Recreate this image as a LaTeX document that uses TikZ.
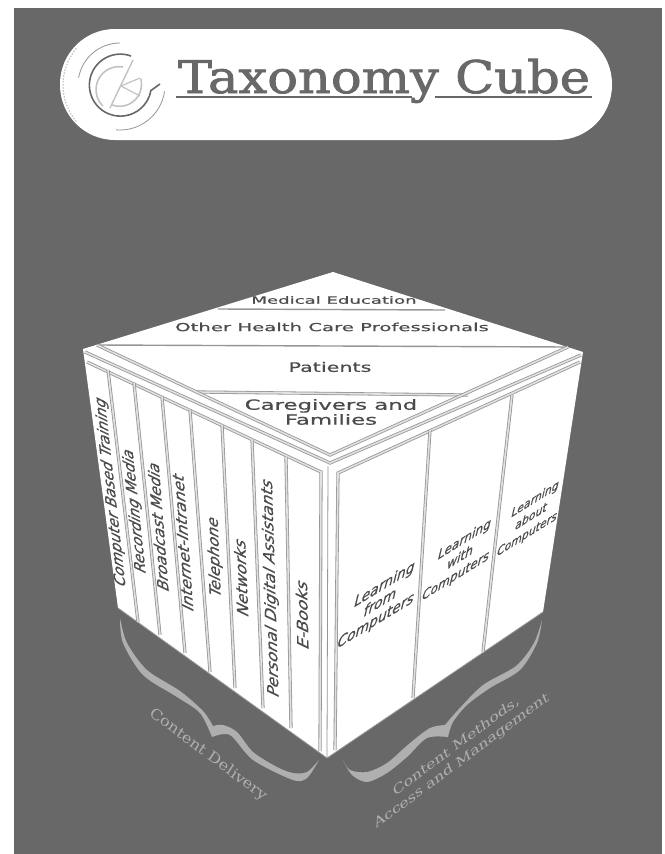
\documentclass[tikz,border=0pt]{standalone}
\usepackage{fontspec}
\usepackage{xcolor}
\usepackage{tikz}
\newfontfamily\cubesans[FakeBold=0.5]{DejaVu Sans}
\newfontfamily\cubeserif{DejaVu Serif}
\newfontfamily\cubetitle[FakeBold=1.6]{DejaVu Serif}
\definecolor{CubeBack}{RGB}{104,104,104}
\definecolor{CubeLine}{RGB}{150,150,150}
\definecolor{CubeBand}{RGB}{225,225,225}
\definecolor{CubeText}{RGB}{75,75,75}
\definecolor{CubeBrace}{RGB}{175,175,175}
\definecolor{LogoLight}{RGB}{195,195,195}

\begin{document}
\begin{tikzpicture}[x=1pt,y=-1pt,
    divider/.style={draw=CubeLine, double=CubeBand, double distance=1.6pt, line width=0.8pt},
    thinedge/.style={draw=CubeLine, line width=0.8pt},
    bandedge/.style={draw=CubeLine, line width=1.4pt},
    bracefill/.style={fill=CubeBrace, draw=none},
    toplabel/.style 2 args={font=\cubesans\fontsize{10}{8.6}\selectfont, text=CubeText, align=center, inner sep=0pt, xscale=#1, yscale=#2},
    facelabel/.style n args={4}{font=\cubesans\fontsize{10}{12}\selectfont, text=CubeText, align=center, inner sep=0pt, cm={#1,#2,#3,#4,(0,0)}},
    bracelabel/.style n args={4}{font=\cubeserif\fontsize{10}{12}\selectfont, text=CubeBrace, align=center, inner sep=0pt, cm={#1,#2,#3,#4,(0,0)}}
  ]
    \useasboundingbox (0,0) rectangle (664,854);
    \fill[white] (0,0) rectangle (664,854);
    \fill[CubeBack] (14,8) rectangle (662,854);

    \node[fill=white, rounded corners=55pt, minimum width=552pt, minimum height=111pt, inner sep=0pt] (logopill) at (336,84.5) {};
    \node[font=\cubetitle\fontsize{45}{50}\selectfont, text=CubeBack, xscale=1.135, inner sep=0pt, anchor=base] (logotitle) at (384,93) {Taxonomy Cube};
    \draw[CubeBack, line width=2.4pt] (176,97) -- (412,97) (435,97) -- (592,97);
    \draw[CubeLine, line width=0.8pt] (120,85) ++(-90:42) arc (-90:-170:42);
    \draw[CubeLine, line width=0.8pt] (120,85) ++(8:45) arc (8:95:45);
    \draw[LogoLight, line width=1.2pt, dash pattern=on 1.5pt off 1.5pt] (120,85) ++(-140:57) arc (-140:-220:57);
    \draw[CubeBack, line width=1.6pt] (131,56) arc (-70:-350:31) -- (160,84);
    \draw[LogoLight, line width=1.6pt] (123,67) arc (-80:-225:23);
    \draw[LogoLight, line width=1.6pt] (112,105) arc (-250:-375:22);
    \draw[LogoLight, line width=1.4pt] (133,60) -- (110,108);
    \draw[LogoLight, line width=1.2pt] (121,86) -- (140,96) (121,86) -- (140,78);

    \fill[white] (333,272) -- (583,352) -- (543,612) -- (327,758) -- (118,608) -- (83,349) -- cycle;

    \draw[thinedge] (118,608) -- (327,758) -- (543,612);
    \draw[bandedge] (218,309) -- (445,310);
    \draw[bandedge] (97,345) -- (568,347);
    \draw[divider] (197,392) -- (468,395);
    \draw[divider] (97,345) -- (330,455) -- (568,347);
    \draw[divider] (85,352) -- (330,463) -- (581,355);
    \draw[divider] (87,362) -- (321,472) -- (320,751);
    \draw[divider] (580,362) -- (338,473) -- (335,750);
    \draw[thinedge] (328,466) -- (327,757);
    \foreach \xa/\ya/\xb/\yb in {108/370/138/622,134/383/160/635,162/397/185/653,190/410/210/672,222/425/235/688,252/440/263/708,286/457/291/728,430/430/413/698,512/395/483/652}
      {\draw[divider] (\xa,\ya) -- (\xb,\yb);}

    \node[toplabel={1.81}{1.0}] (medical) at (334,300) {Medical Education};
    \node[toplabel={1.97}{1.1}] (otherhealth) at (332,327) {Other Health Care Professionals};
    \node[toplabel={2.07}{1.3}] (patients) at (330,367) {Patients};
    \node[toplabel={2.28}{1.4}] (caregivers) at (331,412) {Caregivers and\\Families};

    \node[facelabel={-0.165}{1.49}{-1.55}{0.74}] (cbt) at (111,492) {Computer Based Training};
    \node[facelabel={-0.158}{1.48}{-1.55}{0.74}] (recording) at (135,511) {Recording Media};
    \node[facelabel={-0.12}{1.535}{-1.55}{0.74}] (broadcast) at (158,526) {Broadcast Media};
    \node[facelabel={-0.12}{1.635}{-1.55}{0.74}] (internet) at (183,542) {Internet-Intranet};
    \node[facelabel={-0.062}{1.56}{-1.55}{0.74}] (telephone) at (215,557) {Telephone};
    \node[facelabel={-0.07}{1.63}{-1.55}{0.74}] (networks) at (241,577) {Networks};
    \node[facelabel={-0.05}{1.64}{-1.55}{0.74}] (pda) at (271,588) {Personal Digital Assistants};
    \node[facelabel={-0.04}{1.7}{-1.55}{0.74}] (ebooks) at (302,614) {E-Books};

    \node[facelabel={1.39}{0.85}{0.4}{1.65}] (learnfrom) at (380,603) {Learning\\[-1pt]from\\[-1pt]Computers};
    \node[facelabel={1.22}{0.76}{0.35}{1.45}] (learnwith) at (460,558) {Learning\\[0.6pt]with\\[0.6pt]Computers};
    \node[facelabel={1.09}{0.68}{0.3}{1.3}] (learnabout) at (531,517) {Learning\\[1.5pt]about\\[1.5pt]Computers};

    \fill[bracefill] plot[smooth] coordinates {(120,618) (123,643) (143,675) (177,697) (200,713) (212,737)}
      -- plot[smooth] coordinates {(212,737) (230,735) (253,760) (293,780) (307,778) (319,760)}
      -- plot[smooth] coordinates {(319,760) (307,772) (293,773) (277,767) (253,752) (237,732) (223,725) (213,726)}
      -- plot[smooth] coordinates {(213,726) (203,711) (180,691) (147,670) (127,643) (120,618)} -- cycle;
    \fill[bracefill] plot[smooth] coordinates {(542,620) (537,643) (520,670) (490,688) (467,705) (453,722) (448,737)}
      -- plot[smooth] coordinates {(448,737) (427,738) (407,757) (387,773) (367,782) (352,775) (343,760)}
      -- plot[smooth] coordinates {(343,760) (350,770) (367,772) (387,763) (410,743) (430,728) (445,725)}
      -- plot[smooth] coordinates {(445,725) (458,710) (483,685) (516,666) (534,643) (542,620)} -- cycle;

    \node[bracelabel={1.33}{-1.0}{0.8}{1.2}] (delivery) at (208,755) {Content Delivery};
    \node[bracelabel={1.37}{1.02}{-0.45}{1.2}] (methods) at (459,754) {Content Methods,\\Access and Management};
\end{tikzpicture}
\end{document}
